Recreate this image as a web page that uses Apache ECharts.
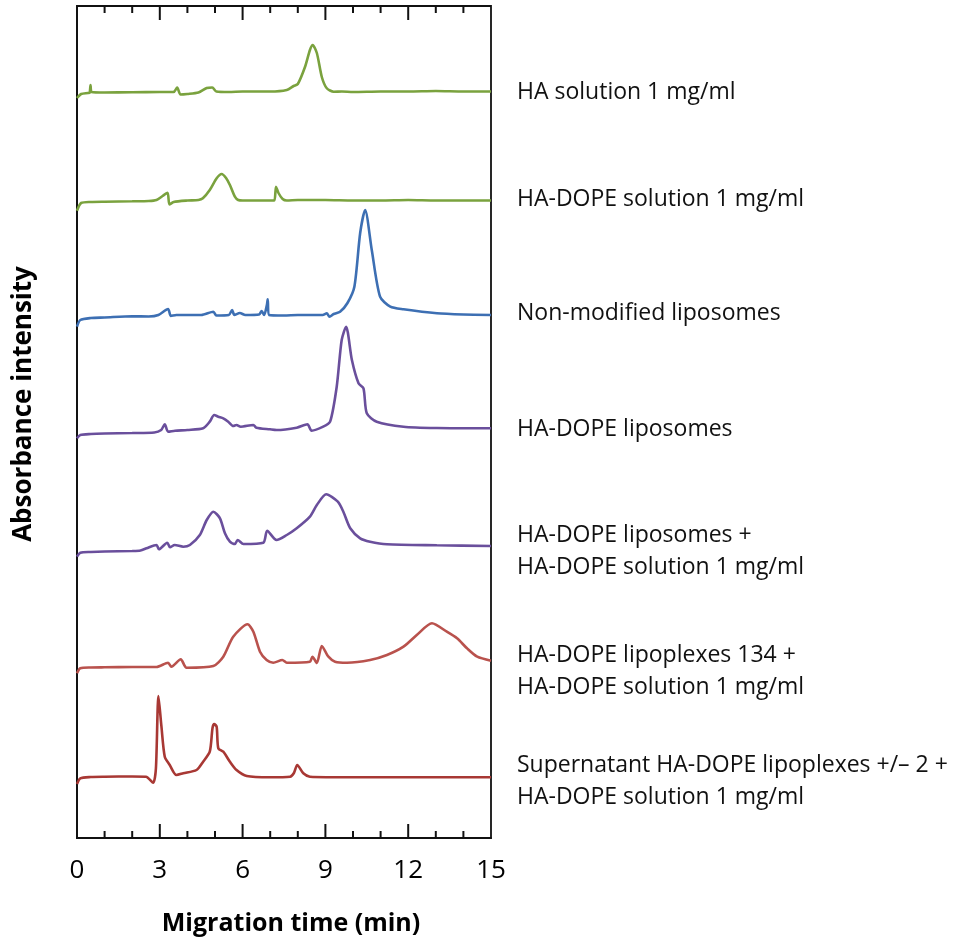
<!DOCTYPE html>
<html>
<head>
<meta charset="utf-8">
<script src="https://cdn.jsdelivr.net/npm/echarts@6/dist/echarts.min.js"></script>
<style>html,body{margin:0;padding:0;background:#fff;}#chart{width:957px;height:942px;}</style>
</head>
<body>
<div id="chart"></div>
<script>
// Migration time (min) / absorbance (arbitrary units, traces stacked with offsets)
const xTicks = [0, 3, 6, 9, 12, 15];
const minorTickValues = [1, 2, 3, 4, 5, 6, 7, 8, 9, 10, 11, 12, 13, 14];

const haSolution = [[0,740],[0.15,744],[0.4,745],[0.46,745.5],[0.49,753],[0.53,746],[1,745.5],[2,745.7],[3,746],[3.5,746],[3.63,750.5],[3.75,743.5],[4.0,744],[4.4,745.5],[4.7,750],[4.9,750.5],[5.05,746.5],[5.5,746],[6,746.5],[7,746.5],[7.6,748],[7.85,752],[8.0,754],[8.26,771],[8.44,788],[8.54,793],[8.69,785],[8.87,761],[9.05,749.7],[9.3,746.3],[9.6,746.5],[10,746],[11,746.5],[12,746.5],[13,747],[14,746.5],[15,746.5]];

const haDopeSolution = [[0,627.3],[0.15,635],[0.5,636],[1,636.3],[2,636.7],[2.6,637],[2.88,638],[3.1,642],[3.28,645.3],[3.35,633.5],[3.5,636],[4.0,637.5],[4.4,638],[4.56,639.7],[4.81,648],[5.06,659.7],[5.24,664],[5.4,660],[5.54,653],[5.72,641.3],[5.84,638],[6.0,637.5],[7.0,637.5],[7.15,637.5],[7.21,651.3],[7.3,645],[7.45,639],[7.6,637.5],[8,638],[9,638],[10,637.5],[11,637.5],[12,638],[13,637.5],[14,637.5],[15,637.5]];

const nonModLiposomes = [[0,511.3],[0.12,518],[0.5,520],[1,520.5],[2,521.7],[2.6,521.5],[2.95,523],[3.3,529],[3.4,522],[3.6,523],[4.5,523],[4.94,526.3],[5.05,522.5],[5.5,523],[5.62,528],[5.7,523],[5.9,525],[6.1,523],[6.6,523.5],[6.69,527],[6.78,523],[6.88,533],[6.91,538.7],[6.96,523],[7.5,522.5],[8,523],[8.9,523],[9.05,524.7],[9.15,521.3],[9.3,524],[9.53,526.3],[9.8,535],[10.05,551.3],[10.26,605],[10.44,628],[10.68,588],[10.98,541.3],[11.35,531.3],[11.83,528.7],[13.04,524.7],[14,523.5],[15,523]];

const haDopeLiposomes = [[0,399.7],[0.12,403],[0.5,404],[1,404.5],[2,405],[2.8,405.5],[3.05,408],[3.18,413.7],[3.3,406.3],[3.55,407.3],[4.0,408],[4.57,409.7],[4.81,416.3],[4.97,423],[5.12,421.3],[5.3,419.7],[5.48,416.3],[5.66,412],[5.78,413],[5.93,411.3],[6.39,413],[6.5,410.3],[6.99,408.7],[7.23,408],[7.96,410.3],[8.35,413.7],[8.5,407.3],[8.92,411.3],[9.17,416.3],[9.41,451.3],[9.59,498],[9.75,511.3],[9.96,478],[10.2,454.7],[10.38,449.7],[10.5,424.7],[10.86,416.3],[11.83,411.3],[13.04,410],[15,409.7]];

const haDopeLipMix = [[0,281.3],[0.12,285.3],[0.5,286],[1,286.5],[2,287],[2.3,287.5],[2.52,289.7],[2.88,293],[2.97,288.7],[3.27,295.3],[3.37,290.7],[3.54,293],[3.85,291.3],[4.09,293],[4.45,303],[4.7,318],[4.94,326.3],[5.18,319.7],[5.36,304.7],[5.54,296.3],[5.72,294],[5.82,298],[6.03,294],[6.75,295.3],[6.89,307.3],[7.23,298],[7.6,303],[7.96,309.7],[8.44,321.3],[8.69,333],[9.03,343.7],[9.45,336.3],[9.65,326.3],[9.9,309.7],[10.26,299.7],[10.62,296.3],[11.23,293.7],[13.04,292.7],[15,292]];

const lipoplexes134Mix = [[0,164.7],[0.12,169.7],[0.5,170.5],[1,170.7],[2,171],[2.88,171],[3.3,175.3],[3.42,171.3],[3.76,178.7],[3.97,170.3],[4.94,172],[5.3,181.3],[5.66,201.3],[6.18,213.7],[6.39,206.3],[6.63,186.3],[6.87,178],[7.11,175.3],[7.44,178],[7.6,175.3],[8.44,176.3],[8.53,181.3],[8.69,175],[8.87,192],[9.11,181.3],[9.35,176.3],[9.78,175.3],[10.62,178],[11.23,183],[11.83,191.3],[12.31,203],[12.86,214.7],[13.4,206.3],[13.77,199.7],[14.13,189.7],[14.5,181.3],[15,177.3]];

const supernatantMix = [[0,54],[0.12,59.7],[0.5,61],[1,61.3],[2,61.5],[2.5,61.3],[2.76,55.3],[2.86,70],[2.95,142],[3.06,111.3],[3.18,81.3],[3.36,73],[3.6,63],[3.85,64.7],[4.33,68],[4.57,76.3],[4.81,86.3],[4.91,110],[4.97,114],[5.06,111.3],[5.12,89.7],[5.3,86.3],[5.54,76.3],[5.78,68],[6.15,62],[6.99,60.7],[7.72,61.3],[7.86,65],[7.98,73],[8.2,64.7],[8.44,61.3],[10,60.7],[15,60.7]];

const seriesNames = [
  ['HA solution 1 mg/ml'],
  ['HA-DOPE solution 1 mg/ml'],
  ['Non-modified liposomes'],
  ['HA-DOPE liposomes'],
  ['HA-DOPE liposomes +', 'HA-DOPE solution 1 mg/ml'],
  ['HA-DOPE lipoplexes 134 +', 'HA-DOPE solution 1 mg/ml'],
  ['Supernatant HA-DOPE lipoplexes +/\u2013 2 +', 'HA-DOPE solution 1 mg/ml']
];
const seriesData = [haSolution, haDopeSolution, nonModLiposomes, haDopeLiposomes, haDopeLipMix, lipoplexes134Mix, supernatantMix];
const colors = ['#7aa23e', '#7aa23e', '#3d6fb3', '#6a4f9c', '#6a4f9c', '#b9524d', '#a83834'];
const labelY = [92.5, 199, 313, 429, 551.5, 671.5, 781.5];

const Y_MAX = 832;
const chart = echarts.init(document.getElementById('chart'), null, {renderer: 'canvas'});
const FONT = '"Open Sans", sans-serif';

const graphics = [];
seriesNames.forEach((lines, i) => {
  const n = lines.length;
  lines.forEach((t, j) => {
    graphics.push({
      type: 'text', x: 517, y: labelY[i] - (n - 1) * 16 + j * 32,
      style: {text: t, fill: '#111', font: '23px ' + FONT, verticalAlign: 'middle'}
    });
  });
});

const traceSeries = seriesData.map((d, i) => ({
  name: seriesNames[i].join(' '),
  type: 'line', data: d, showSymbol: false, smooth: 0.25,
  lineStyle: {color: colors[i], width: 2.6}, itemStyle: {color: colors[i]}
}));

// tick marks on bottom (side 0) and top (side 1) frame edges
const tickItems = [];
minorTickValues.forEach(v => { tickItems.push([v, 0, 0]); tickItems.push([v, Y_MAX, 1]); });

const tickSeries = {
  type: 'custom', silent: true, clip: false, z: 10,
  data: tickItems,
  encode: {x: 0, y: 1},
  renderItem: (params, api) => {
    const v = api.value(0);
    const side = api.value(2);
    const len = (xTicks.indexOf(v) >= 0) ? 14 : 7;
    const p = api.coord([v, side ? Y_MAX : 0]);
    const dir = side ? 1 : -1;
    return {type: 'line', shape: {x1: p[0], y1: p[1], x2: p[0], y2: p[1] + dir * len},
            style: {stroke: '#111', lineWidth: 2}};
  }
};

chart.setOption({
  animation: false,
  backgroundColor: '#fff',
  grid: {left: 77, top: 6, width: 414, height: 832, show: true, borderColor: '#111', borderWidth: 1.8, backgroundColor: 'transparent'},
  xAxis: {
    type: 'value', min: 0, max: 15, interval: 3,
    axisLine: {show: true, lineStyle: {color: '#111', width: 1.8}},
    axisTick: {show: false}, minorTick: {show: false}, splitLine: {show: false},
    axisLabel: {show: true, color: '#000', fontSize: 26, fontFamily: FONT, margin: 20},
    name: 'Migration time (min)', nameLocation: 'middle', nameGap: 73,
    nameTextStyle: {fontSize: 25, fontWeight: 'bold', color: '#000', fontFamily: FONT, padding: [0, 0, 0, 14]}
  },
  yAxis: {
    type: 'value', min: 0, max: Y_MAX,
    axisLine: {show: true, lineStyle: {color: '#111', width: 1.8}},
    axisTick: {show: false}, axisLabel: {show: false}, splitLine: {show: false},
    name: 'Absorbance intensity', nameLocation: 'middle', nameGap: 40,
    nameTextStyle: {fontSize: 26, fontWeight: 'bold', color: '#000', fontFamily: FONT, padding: [0, 0, 0, 36]}
  },
  series: traceSeries.concat([tickSeries]),
  graphic: graphics
});
</script>
</body>
</html>
